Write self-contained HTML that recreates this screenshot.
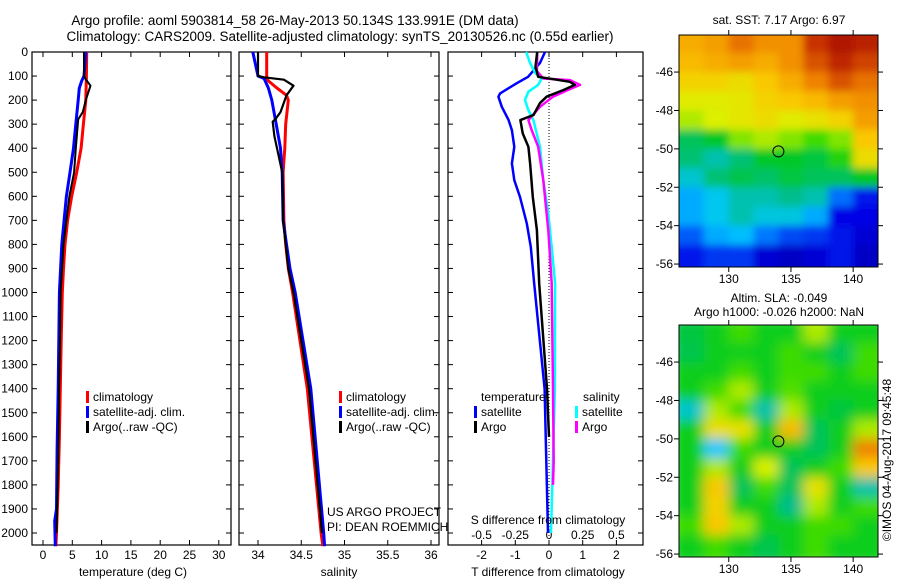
<!DOCTYPE html>
<html><head><meta charset="utf-8"><style>
body{margin:0;background:#fff}
svg{display:block;font-family:"Liberation Sans",sans-serif}
text{font-size:12px;fill:#000}
</style></head><body>
<svg id="fig" width="900" height="580" viewBox="0 0 900 580" xmlns="http://www.w3.org/2000/svg">
<rect width="900" height="580" fill="#fff"/>
<text x="295" y="25" text-anchor="middle" style="font-size:13.5px">Argo profile: aoml 5903814_58 26-May-2013 50.134S 133.991E (DM data)</text>
<text x="340" y="41" text-anchor="middle" style="font-size:13.5px">Climatology: CARS2009. Satellite-adjusted climatology: synTS_20130526.nc (0.55d earlier)</text>
<g id="g"></g>
<text x="133" y="576" text-anchor="middle">temperature (deg C)</text>
<text x="339" y="576" text-anchor="middle">salinity</text>
<text x="548" y="576" text-anchor="middle">T difference from climatology</text>
<text x="548" y="524" text-anchor="middle">S difference from climatology</text>
<text x="327" y="516">US ARGO PROJECT</text>
<text x="327" y="531">PI: DEAN ROEMMICH</text>
<text x="779" y="24" text-anchor="middle">sat. SST: 7.17 Argo: 6.97</text>
<text x="779" y="302" text-anchor="middle">Altim. SLA: -0.049</text>
<text x="779" y="316" text-anchor="middle">Argo h1000: -0.026 h2000: NaN</text>
<text transform="translate(891,460) rotate(-90)" text-anchor="middle">©IMOS 04-Aug-2017 09:45:48</text>
</svg>
<script>
// ---------- data ----------
const depthTicks=[0,100,200,300,400,500,600,700,800,900,1000,1100,1200,1300,1400,1500,1600,1700,1800,1900,2000];
const tempTicks=[0,5,10,15,20,25,30];
const salTicks=[34,34.5,35,35.5,36];
const tdiffTicks=[-2,-1,0,1,2];
const sdiffTicks=[-0.5,-0.25,0,0.25,0.5];
const sdiffTickLabels=["-0.5","-0.25","0","0.25","0.5"];
const latTicks=[-46,-48,-50,-52,-54,-56];
const lonTicks=[130,135,140];

const tClimDepth=[0,100,200,300,400,500,600,700,800,900,1000,1200,1400,1600,1800,2000,2055];
const tClim=[7.45,7.4,7.3,6.9,6.5,5.75,4.9,4.2,3.75,3.5,3.3,3.1,2.95,2.8,2.6,2.3,2.2];
const tSatDepth=[0,100,120,150,200,300,400,500,600,700,800,900,1000,1200,1400,1650,1900,1950,2055];
const tSat=[7.3,7.0,6.6,6.2,6.0,5.6,5.2,4.6,4.0,3.6,3.2,3.0,2.8,2.7,2.6,2.4,2.3,2.0,2.1];
const tArgoDepth=[0,100,110,140,200,250,280,400,500,600,700,800,1000,1200,1400,1700,2000];
const tArgo=[7.0,7.0,7.2,8.1,7.3,6.8,6.0,5.6,5.3,4.5,4.0,3.5,3.0,2.9,2.75,2.6,2.3];

const sClimDepth=[0,110,120,150,180,200,300,400,500,700,800,900,1000,1400,2000,2055];
const sClim=[34.1,34.1,34.12,34.22,34.33,34.35,34.32,34.31,34.29,34.3,34.32,34.35,34.4,34.57,34.73,34.75];
const sSatDepth=[0,50,100,110,150,200,300,400,500,700,800,900,1000,1400,2000,2055];
const sSat=[33.94,33.97,34.0,34.07,34.12,34.16,34.21,34.26,34.28,34.29,34.33,34.37,34.43,34.61,34.76,34.77];
const sArgoDepth=[0,100,105,115,140,180,250,280,290,350,400,450,500,700,900,1000,1400,2000];
const sArgo=[34.0,34.0,34.07,34.3,34.41,34.33,34.26,34.2,34.17,34.19,34.22,34.25,34.28,34.29,34.35,34.41,34.59,34.74];

const dtSatDepth=[0,46,103,130,172,186,228,283,325,394,463,533,603,713,811,963,1400,2000];
const dtSat=[-0.12,-0.27,-0.62,-0.96,-1.45,-1.5,-1.4,-1.2,-1.1,-1.03,-1.1,-1.03,-0.86,-0.66,-0.54,-0.44,-0.13,-0.03];
const dtArgoDepth=[0,61,103,124,137,158,186,213,262,283,338,394,463,603,741,963,1400,1600];
const dtArgo=[-0.35,-0.4,-0.32,0.62,0.77,0.43,-0.07,-0.27,-0.46,-0.85,-0.78,-0.61,-0.56,-0.48,-0.36,-0.29,-0.06,0];
const dsSatDepth=[0,46,89,110,137,165,200,242,283,394,533,672,811,963,1400,2000];
const dsSat=[-0.17,-0.14,-0.1,-0.054,-0.08,-0.153,-0.178,-0.153,-0.116,-0.067,-0.042,-0.005,0.02,0.045,0.044,0.015];
const dsArgoDepth=[0,80,110,117,137,158,186,228,283,325,394,533,741,963,1400,1700,1800];
const dsArgo=[-0.087,-0.09,-0.042,0.156,0.23,0.14,0.03,-0.067,-0.153,-0.128,-0.08,-0.042,-0.005,0.02,0.03,0.035,0.03];

const mapLons=[126,128,130,132,134,136,138,140];
const mapLats=[-44,-45,-46,-47,-48,-49,-50,-51,-52,-53,-54,-55];
const sstGrid=[
[0.74,0.76,0.82,0.78,0.78,0.90,0.95,0.93],
[0.72,0.74,0.76,0.74,0.78,0.86,0.92,0.88],
[0.68,0.68,0.66,0.70,0.74,0.80,0.86,0.82],
[0.63,0.63,0.64,0.68,0.70,0.72,0.76,0.78],
[0.60,0.62,0.64,0.66,0.63,0.65,0.68,0.76],
[0.44,0.48,0.58,0.60,0.58,0.55,0.58,0.70],
[0.42,0.38,0.42,0.48,0.48,0.46,0.52,0.66],
[0.36,0.42,0.45,0.43,0.46,0.44,0.44,0.48],
[0.30,0.34,0.38,0.38,0.40,0.38,0.24,0.14],
[0.30,0.34,0.38,0.35,0.35,0.30,0.12,0.12],
[0.22,0.30,0.32,0.25,0.20,0.18,0.14,0.10],
[0.14,0.18,0.18,0.10,0.08,0.10,0.14,0.08]];
const slaGrid=[
[0.46,0.50,0.55,0.50,0.50,0.60,0.50,0.50],
[0.45,0.50,0.50,0.50,0.55,0.50,0.44,0.55],
[0.50,0.50,0.55,0.50,0.55,0.55,0.50,0.55],
[0.50,0.55,0.60,0.50,0.56,0.50,0.50,0.50],
[0.36,0.60,0.55,0.38,0.60,0.50,0.46,0.50],
[0.50,0.66,0.65,0.50,0.72,0.44,0.50,0.60],
[0.50,0.33,0.55,0.50,0.50,0.44,0.50,0.80],
[0.50,0.60,0.50,0.62,0.44,0.50,0.55,0.70],
[0.50,0.70,0.44,0.55,0.44,0.65,0.50,0.38],
[0.50,0.68,0.50,0.50,0.40,0.60,0.50,0.55],
[0.55,0.70,0.60,0.50,0.50,0.55,0.55,0.50],
[0.50,0.55,0.50,0.45,0.50,0.55,0.50,0.50]];
const argoLon=133.991, argoLat=-50.134;

// ---------- drawing ----------
const NS="http://www.w3.org/2000/svg";
const G=document.getElementById('g');
function mk(tag,attrs,parent){const e=document.createElementNS(NS,tag);for(const k in attrs)e.setAttribute(k,attrs[k]);(parent||G).appendChild(e);return e;}
const yD=d=>52+d*0.2405;
const P={
 t:{x0:32,x1:231,sx:v=>43+v*5.86},
 s:{x0:239,x1:439,sx:v=>258+(v-34)*86.5},
 d:{x0:448,x1:643,sx:v=>549+v*33.7},
};
const sxS=v=>549+v*134.8;
function frame(p,name){
 const r=mk('rect',{x:p.x0,y:52,width:p.x1-p.x0,height:493,fill:'none',stroke:'#000','stroke-width':1.2});
 
 
 depthTicks.forEach(d=>{const y=yD(d);
  mk('line',{x1:p.x0,x2:p.x0+5,y1:y,y2:y,stroke:'#000'});
  mk('line',{x1:p.x1,x2:p.x1-5,y1:y,y2:y,stroke:'#000'});});
}
function xticks(p,ticks,labels,name){
 ticks.forEach((v,i)=>{const x=p.sx(v);
  mk('line',{x1:x,x2:x,y1:545,y2:540,stroke:'#000'});
  mk('line',{x1:x,x2:x,y1:52,y2:57,stroke:'#000'});
  const t=mk('text',{x:x,y:559,'text-anchor':'middle'});t.textContent=labels?labels[i]:String(v);
  
  });
}
function line(p,sx,depths,vals,color,w,name){
 const pts=depths.map((d,i)=>sx(vals[i]).toFixed(1)+','+yD(d).toFixed(1)).join(' ');
 const e=mk('polyline',{points:pts,fill:'none',stroke:color,'stroke-width':w,'stroke-linejoin':'round'});
 
 
}
frame(P.t,'temperature-panel');frame(P.s,'salinity-panel');frame(P.d,'difference-panel');
depthTicks.forEach(d=>{const t=mk('text',{x:28,y:yD(d)+4,'text-anchor':'end'});t.textContent=d;
 
 });
xticks(P.t,tempTicks,null,'temperature');
xticks(P.s,salTicks,null,'salinity');
xticks(P.d,tdiffTicks,null,'t-diff');
sdiffTicks.forEach((v,i)=>{const t=mk('text',{x:sxS(v),y:539,'text-anchor':'middle'});t.textContent=sdiffTickLabels[i];
 
 });
mk('line',{x1:549,x2:549,y1:52,y2:545,stroke:'#000','stroke-dasharray':'1,2'});

line(P.t,P.t.sx,tClimDepth,tClim,'#f00',3,'temperature-climatology-line');
line(P.t,P.t.sx,tSatDepth,tSat,'#00f',3,'temperature-satellite-line');
line(P.t,P.t.sx,tArgoDepth,tArgo,'#000',2,'temperature-argo-line');
line(P.s,P.s.sx,sClimDepth,sClim,'#f00',3,'salinity-climatology-line');
line(P.s,P.s.sx,sSatDepth,sSat,'#00f',3,'salinity-satellite-line');
line(P.s,P.s.sx,sArgoDepth,sArgo,'#000',2.2,'salinity-argo-line');
line(P.d,P.d.sx,dtSatDepth,dtSat,'#00f',2.5,'t-diff-satellite-line');
line(P.d,sxS,dsSatDepth,dsSat,'#0ff',2.5,'s-diff-satellite-line');
line(P.d,sxS,dsArgoDepth,dsArgo,'#f0f',2.5,'s-diff-argo-line');
line(P.d,P.d.sx,dtArgoDepth,dtArgo,'#000',2.5,'t-diff-argo-line');

function legend(x,y,color,label,name){
 mk('rect',{x:x,y:y-10,width:3,height:12,fill:color});
 const t=mk('text',{x:x+7,y:y});t.textContent=label;
 
 
}
[[86,'t'],[339,'s']].forEach(([x,k])=>{
 legend(x,401,'#f00','climatology',k+'-legend-climatology');
 legend(x,416,'#00f','satellite-adj. clim.',k+'-legend-satellite');
 legend(x,431,'#000','Argo(..raw -QC)',k+'-legend-argo');
});
{const t=mk('text',{x:481,y:401});t.textContent='temperature';
 
 
 const u=mk('text',{x:583,y:401});u.textContent='salinity';
 
 }
legend(474,416,'#00f','satellite','legend-t-satellite');
legend(474,431,'#000','Argo','legend-t-argo');
legend(575,416,'#0ff','satellite','legend-s-satellite');
legend(575,431,'#f0f','Argo','legend-s-argo');

// maps
const cmapStops=[[0,0,0,130],[0.12,0,0,230],[0.25,0,120,255],[0.33,0,200,255],[0.40,0,190,140],[0.48,0,200,40],[0.55,60,220,0],[0.62,220,240,0],[0.70,250,200,0],[0.80,240,130,0],[0.90,200,50,0],[1,150,0,0]];
function cmap(v){
 v=Math.max(0,Math.min(1,v));
 for(let i=1;i<cmapStops.length;i++){const a=cmapStops[i-1],b=cmapStops[i];
  if(v<=b[0]){const t=(v-a[0])/(b[0]-a[0]);
   return `rgb(${Math.round(a[1]+t*(b[1]-a[1]))},${Math.round(a[2]+t*(b[2]-a[2]))},${Math.round(a[3]+t*(b[3]-a[3]))})`;}}
 return 'rgb(150,0,0)';
}
function map(top,grid,name,blur){
 const mx=lon=>679+(lon-126)*12.44, my=lat=>top+(-44.07-lat)*19.2;
 const bot=top+232;
 const cid='clip'+name;
 const cp=mk('clipPath',{id:cid});mk('rect',{x:679,y:top,width:199,height:232},cp);
 const f=mk('filter',{id:'f'+name,x:'-10%',y:'-10%',width:'120%',height:'120%'});mk('feGaussianBlur',{stdDeviation:blur},f);
 const gg=mk('g',{'clip-path':`url(#${cid})`});
 
 
 const inner=mk('g',{filter:`url(#f${name})`},gg);
 grid.forEach((row,i)=>row.forEach((v,j)=>{
  const x=mx(mapLons[j]),y=my(mapLats[i]+ (i==0?0.07:0));
  const c=mk('rect',{x:x-(j==0?8:0),y:i==0?top-8:y,width:12.44*2+(j==0?8:0)+(j==row.length-1?10:0)+0.5,height:19.2+(i==0?8:0)+(i==grid.length-1?10:0)+0.5,fill:cmap(v)},inner);
  
  
 }));
 mk('rect',{x:679,y:top,width:199,height:232,fill:'none',stroke:'#000'});
 latTicks.forEach(l=>{const y=my(l);
  mk('line',{x1:679,x2:674,y1:y,y2:y,stroke:'#000'});mk('line',{x1:878,x2:883,y1:y,y2:y,stroke:'#000'});
  const t=mk('text',{x:673,y:y+4,'text-anchor':'end'});t.textContent=l;
  
  });
 lonTicks.forEach(l=>{const x=mx(l);
  mk('line',{x1:x,x2:x,y1:top,y2:top-5,stroke:'#000'});mk('line',{x1:x,x2:x,y1:bot,y2:bot+5,stroke:'#000'});
  const t=mk('text',{x:x,y:bot+16,'text-anchor':'middle'});t.textContent=l;
  
  });
 const c=mk('circle',{cx:mx(argoLon),cy:my(argoLat),r:5.5,fill:'none',stroke:'#000','stroke-width':1});
 
 
}
map(35,sstGrid,'sst-map',4);
map(325,slaGrid,'sla-map',6);
</script>
</body></html>
